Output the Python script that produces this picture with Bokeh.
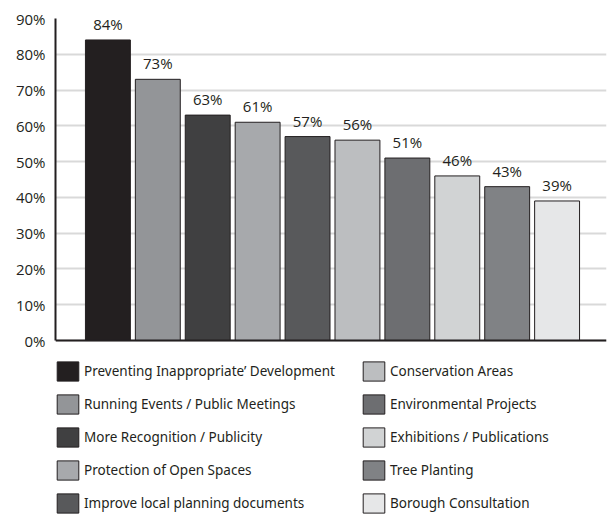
from bokeh.plotting import figure
from bokeh.models import (ColumnDataSource, Range1d, FixedTicker, PrintfTickFormatter,
                          Legend, LegendItem, Span)
from bokeh.core.properties import value
from bokeh.embed import file_html
from bokeh.resources import INLINE

categories = [
    "Preventing Inappropriate\u2019 Development",
    "Running Events / Public Meetings",
    "More Recognition / Publicity",
    "Protection of Open Spaces",
    "Improve local planning documents",
    "Conservation Areas",
    "Environmental Projects",
    "Exhibitions / Publications",
    "Tree Planting",
    "Borough Consultation",
]
values = [84, 73, 63, 61, 57, 56, 51, 46, 43, 39]
colors = ["#231f20", "#939598", "#404041", "#a7a9ac", "#58595b",
          "#bcbec0", "#6d6e71", "#d1d3d4", "#808285", "#e6e7e8"]
y_ticks = [0, 10, 20, 30, 40, 50, 60, 70, 80, 90]

TXT = "#231f20"

src = ColumnDataSource(dict(
    x=list(range(len(categories))),
    val=values,
    color=colors,
    cat=categories,
    label=[f"{v}%" for v in values],
))

# the frame extends below 0 to host the legend area
p = figure(width=609, height=515, output_backend="svg", toolbar_location=None,
           x_range=Range1d(-1.05, 9.99), y_range=Range1d(-48.9, 90),
           min_border_left=55, min_border_top=18, min_border_right=3,
           min_border_bottom=0)
p.outline_line_color = None
p.background_fill_color = "white"
p.xaxis.visible = False

p.xgrid.visible = False
p.ygrid.grid_line_color = "#d9d9d9"
p.ygrid.grid_line_width = 2
p.ygrid.ticker = FixedTicker(ticks=y_ticks)

r = p.vbar(x="x", top="val", width=0.9, bottom=0, source=src,
           fill_color="color", line_color=TXT, line_width=1)

p.text(x="x", y="val", text="label", source=src, text_align="center",
       text_baseline="bottom", y_offset=-6, text_color=TXT,
       text_font_size="15px", text_font=value("Open Sans"))

p.add_layout(Span(location=0, dimension="width", line_color=TXT, line_width=2))

ya = p.yaxis[0]
ya.ticker = FixedTicker(ticks=y_ticks)
ya.bounds = (0, 90)
ya.formatter = PrintfTickFormatter(format="%d%%")
ya.axis_line_color = TXT
ya.axis_line_width = 2
ya.major_tick_line_color = None
ya.minor_tick_line_color = None
ya.major_tick_out = 0
ya.major_tick_in = 0
ya.major_label_standoff = 10
ya.major_label_text_font = "Open Sans"
ya.major_label_text_font_size = "15px"
ya.major_label_text_color = TXT

items = [LegendItem(label=c, renderers=[r], index=i) for i, c in enumerate(categories)]
legend = Legend(items=items, nrows=5, orientation="vertical", location=(-1, 0),
                glyph_width=27, glyph_height=24, label_standoff=3,
                label_width=267, spacing=9, padding=0, margin=0,
                label_text_font="Noto Sans", label_text_font_size="13.5px",
                label_text_color=TXT, border_line_color=None,
                background_fill_alpha=0)
p.add_layout(legend, "center")

open("out.html", "w").write(file_html(p, INLINE))
